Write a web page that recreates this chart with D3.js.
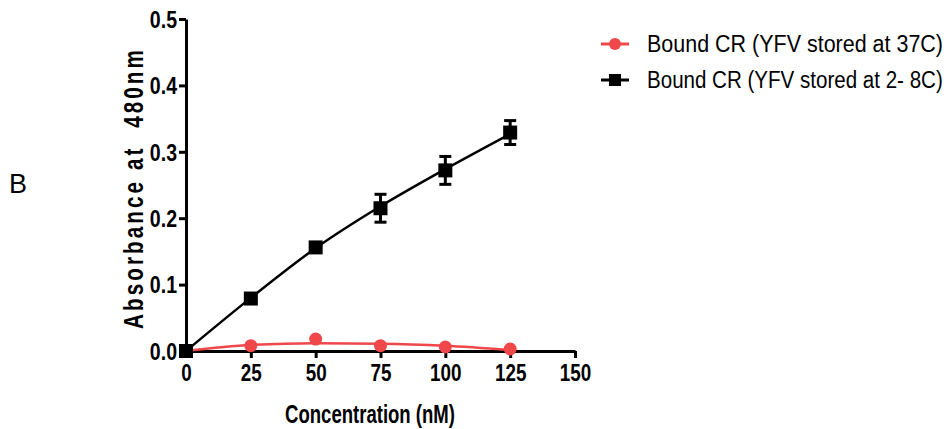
<!DOCTYPE html>
<html><head><meta charset="utf-8">
<script src="https://cdn.jsdelivr.net/npm/d3@7"></script>
<style>
body{margin:0;background:#fff;}
svg{display:block;}
</style></head>
<body>
<svg id="chart" width="951" height="429"></svg>
<script>
const concentrations = [0, 25, 50, 75, 100, 125];
const red37 = [0, 0.008, 0.018, 0.008, 0.006, 0.003];
const red37Err = [0, 0, 0, 0, 0, 0];
const red37Fit = [0, 0.009, 0.0115, 0.011, 0.008, 0.0015];
const black28 = [0, 0.079, 0.156, 0.215, 0.272, 0.329];
const black28Err = [0, 0, 0.004, 0.021, 0.021, 0.018];
const black28Fit = [0, 0.08, 0.155, 0.218, 0.274, 0.327];
const xTicks = [0, 25, 50, 75, 100, 125, 150];
const yTicks = [0.0, 0.1, 0.2, 0.3, 0.4, 0.5];
const seriesNames = ["Bound CR (YFV stored at 37C)", "Bound CR (YFV stored at 2- 8C)"];
const seriesColors = ["#f0474b", "#000000"];

const svg = d3.select("#chart");
const sans = "'Liberation Sans', Arial, sans-serif";
const x = d3.scaleLinear().domain([0, 150]).range([186, 575]);
const y = d3.scaleLinear().domain([0, 0.5]).range([351, 19]);

// fit a text horizontally (in its own direction) to a target length
function fitText(sel, base, target) {
  const node = sel.node();
  const len = node.getComputedTextLength();
  sel.attr("transform", base + ` scale(${target / len},1)`);
}

// axes
const xAxis = svg.append("g").attr("transform", "translate(0,351)")
  .call(d3.axisBottom(x).tickValues(xTicks).tickSize(7).tickSizeOuter(0).tickPadding(5).tickFormat(d3.format("d")));
const yAxis = svg.append("g").attr("transform", "translate(186,0)")
  .call(d3.axisLeft(y).tickValues(yTicks).tickSize(7).tickSizeOuter(0).tickPadding(3).tickFormat(d3.format(".1f")));
[xAxis, yAxis].forEach(a => {
  a.select(".domain").attr("stroke", "#000").attr("stroke-width", 3);
  a.selectAll(".tick line").attr("stroke", "#000").attr("stroke-width", 3);
  a.selectAll(".tick text").attr("fill", "#000").style("font-family", sans)
    .style("font-weight", "bold").style("font-size", "23px");
});
xAxis.selectAll(".tick text").attr("dy", "0.8em").attr("transform", "scale(0.82,1)");
yAxis.selectAll(".tick text").attr("dy", "0.36em").attr("x", 0).attr("transform", "translate(-9,0) scale(0.85,1)");

// axis titles
const xt = svg.append("text").attr("text-anchor", "middle")
  .style("font-family", sans).style("font-weight", "bold").style("font-size", "25px")
  .text("Concentration (nM)");
fitText(xt, "translate(370,423)", 170);
const yt = svg.append("text").attr("text-anchor", "middle")
  .style("font-family", sans).style("font-weight", "bold").style("font-size", "27px")
  .style("letter-spacing", "4px").style("white-space", "pre")
  .text("Absorbance at  480nm");
fitText(yt, "translate(143,188) rotate(-90)", 282);

svg.append("text").attr("x", 9).attr("y", 193)
  .style("font-family", sans).style("font-size", "27px")
  .text("B");

// lines
const line = d3.line().x((d, i) => x(concentrations[i])).y(d => y(d)).curve(d3.curveMonotoneX);
svg.append("path").datum(black28Fit).attr("d", line).attr("fill", "none")
  .attr("stroke", seriesColors[1]).attr("stroke-width", 2.5);
svg.append("path").datum(red37Fit).attr("d", line).attr("fill", "none")
  .attr("stroke", seriesColors[0]).attr("stroke-width", 2.5);

// error bars
function errorBars(vals, errs, color) {
  const g = svg.append("g");
  vals.forEach((v, i) => {
    if (!errs[i]) return;
    const cx = x(concentrations[i]);
    g.append("line").attr("x1", cx).attr("x2", cx).attr("y1", y(v - errs[i])).attr("y2", y(v + errs[i]))
      .attr("stroke", color).attr("stroke-width", 3);
    [v - errs[i], v + errs[i]].forEach(e => g.append("line").attr("x1", cx - 6).attr("x2", cx + 6)
      .attr("y1", y(e)).attr("y2", y(e)).attr("stroke", color).attr("stroke-width", 3));
  });
}
errorBars(black28, black28Err, seriesColors[1]);

// markers
svg.append("g").selectAll("circle").data(red37).join("circle")
  .attr("cx", (d, i) => x(concentrations[i])).attr("cy", d => y(d)).attr("r", 6.5)
  .attr("fill", seriesColors[0]);
svg.append("g").selectAll("rect").data(black28).join("rect")
  .attr("x", (d, i) => x(concentrations[i]) - 7).attr("y", d => y(d) - 7)
  .attr("width", 14).attr("height", 14).attr("fill", seriesColors[1]);

// legend
const legend = svg.append("g");
seriesNames.forEach((name, i) => {
  const ly = 44 + i * 36;
  legend.append("line").attr("x1", 601).attr("x2", 629).attr("y1", ly).attr("y2", ly)
    .attr("stroke", seriesColors[i]).attr("stroke-width", 3);
  if (i === 0) legend.append("circle").attr("cx", 615).attr("cy", ly).attr("r", 6).attr("fill", seriesColors[i]);
  else legend.append("rect").attr("x", 609).attr("y", ly - 6).attr("width", 12).attr("height", 12).attr("fill", seriesColors[i]);
  const t = legend.append("text").attr("dy", "0.36em")
    .style("font-family", sans).style("font-size", "23px")
    .text(name);
  fitText(t, `translate(647,${ly})`, 296);
});
</script>
</body></html>
